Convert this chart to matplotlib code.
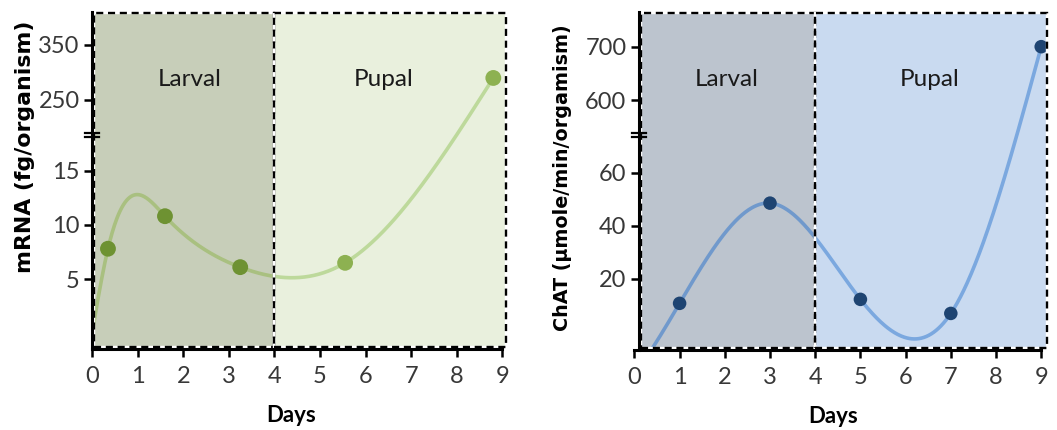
import numpy as np
import matplotlib
matplotlib.use("Agg")
import matplotlib.pyplot as plt
from matplotlib.patches import Rectangle

plt.rcParams['font.family'] = ['Lato', 'DejaVu Sans']

# ---------------- data ----------------
days_ticks = list(range(10))

mrna_days = [0.35, 1.6, 3.25, 5.55, 8.8]
mrna_vals = [7.8, 10.8, 6.1, 6.5, 290]
mrna_fit_days = [0.0] + mrna_days          # curve starts at origin
mrna_fit_vals = [0.0] + mrna_vals
mrna_yticks = [5, 10, 15, 250, 350]

chat_days = [1, 3, 5, 7, 9]
chat_vals = [10.8, 48.6, 12.3, 7.0, 700]
chat_yticks = [20, 40, 60, 600, 700]

stage_names = ["Larval", "Pupal"]
stage_bounds = [0, 4, 9]


def natural_cubic(x, y, xq):
    x = np.asarray(x, float); y = np.asarray(y, float); xq = np.asarray(xq, float)
    n = len(x); h = np.diff(x)
    A = np.zeros((n, n)); r = np.zeros(n)
    A[0, 0] = 1; A[-1, -1] = 1
    for i in range(1, n - 1):
        A[i, i - 1] = h[i - 1]; A[i, i] = 2 * (h[i - 1] + h[i]); A[i, i + 1] = h[i]
        r[i] = 6 * ((y[i + 1] - y[i]) / h[i] - (y[i] - y[i - 1]) / h[i - 1])
    M = np.linalg.solve(A, r)
    idx = np.clip(np.searchsorted(x, xq) - 1, 0, n - 2)
    x0 = x[idx]; x1 = x[idx + 1]; hh = x1 - x0
    t0 = x1 - xq; t1 = xq - x0
    return ((M[idx] * t0 ** 3 + M[idx + 1] * t1 ** 3) / (6 * hh)
            + (y[idx] / hh - M[idx] * hh / 6) * t0
            + (y[idx + 1] / hh - M[idx + 1] * hh / 6) * t1)


def make_break(b_lo, b_hi, k):
    def fwd(v):
        v = np.asarray(v, float)
        return np.where(v <= b_lo, v, np.where(v >= b_hi, b_lo + (v - b_hi) * k, b_lo))

    def inv(d):
        d = np.asarray(d, float)
        return np.where(d <= b_lo, d, b_hi + (d - b_lo) / k)
    return fwd, inv


fig = plt.figure(figsize=(10.57, 4.30), dpi=100)


def panel(rect, xlim, spine_x, ylim, brk, fit_x, fit_y, pts_x, pts_y, curve_x,
          yticks, ylabel, ylabel_size, ylabel_xy, bg_colors, line_colors,
          marker_colors, msize, label_x):
    ax = fig.add_axes(rect)
    fwd, inv = make_break(*brk)
    ax.set_yscale('function', functions=(fwd, inv))
    ax.set_xlim(*xlim)
    ax.set_ylim(*ylim)
    ax.patch.set_alpha(0)
    trans = ax.get_xaxis_transform()
    # stage backgrounds
    lefts = [spine_x + 0.05, stage_bounds[1]]
    rights = [stage_bounds[1], xlim[1] - 0.02]
    for i in range(2):
        ax.add_patch(Rectangle((lefts[i], 0.006), rights[i] - lefts[i], 0.994,
                               transform=trans, facecolor=bg_colors[i],
                               edgecolor='none', zorder=0))
    # smooth curve (spline in display space)
    d = natural_cubic(fit_x, fwd(fit_y), curve_x)
    yy = inv(d)
    m1 = curve_x <= stage_bounds[1]
    m2 = curve_x >= stage_bounds[1]
    ax.plot(curve_x[m1], yy[m1], color=line_colors[0], lw=2.6, zorder=2,
            solid_capstyle='round')
    ax.plot(curve_x[m2], yy[m2], color=line_colors[1], lw=2.6, zorder=2,
            solid_capstyle='round')
    px = np.asarray(pts_x); py = np.asarray(pts_y)
    cols = [marker_colors[0] if x < stage_bounds[1] else marker_colors[1] for x in px]
    ax.scatter(px, py, s=msize, c=cols, zorder=3, edgecolors='none', clip_on=False)
    # dashed boxes
    for i in range(2):
        for ec, ls in (('white', '-'), ('black', (0, (3, 2)))):
            ax.add_patch(Rectangle((lefts[i], 0.006), rights[i] - lefts[i], 0.99,
                                   transform=trans, facecolor='none', edgecolor=ec,
                                   lw=1.7, linestyle=ls, zorder=4, clip_on=False))
    # stage labels
    for i in range(2):
        ax.text(label_x[i], 0.80, stage_names[i], transform=trans, ha='center',
                va='center', fontsize=17.5, color='#1a1a1a', zorder=5)
    # spines & ticks
    for s in ('top', 'right'):
        ax.spines[s].set_visible(False)
    ax.spines['left'].set_position(('data', spine_x))
    ax.spines['left'].set_linewidth(2.2)
    ax.spines['bottom'].set_linewidth(2.2)
    ax.spines['bottom'].set_bounds(xlim[0], 9)
    ax.spines['left'].set_zorder(6)
    ax.spines['bottom'].set_zorder(6)
    ax.set_xticks(days_ticks)
    ax.set_xticklabels([str(t) for t in days_ticks])
    ax.set_yticks(yticks)
    ax.set_yticklabels([str(t) for t in yticks])
    ax.yaxis.set_minor_locator(matplotlib.ticker.NullLocator())
    ax.tick_params(axis='both', direction='out', length=6, width=1.8,
                   labelsize=17, labelcolor='#383838', pad=3)
    ax.tick_params(axis='x', pad=6)
    ax.set_xlabel('Days', fontsize=16, fontweight='bold')
    ax.xaxis.label.set_va('center')
    ax.xaxis.set_label_coords(0.48, -0.196)
    ax.set_ylabel(ylabel, fontsize=ylabel_size, fontweight='bold',
                  family=['DejaVu Sans'])
    ax.yaxis.label.set_va('center')
    ax.yaxis.set_label_coords(*ylabel_xy)
    # break marks
    frac = (brk[0] - ylim[0]) / (fwd(ylim[1]) - ylim[0])
    sx = (spine_x - xlim[0]) / (xlim[1] - xlim[0])
    for off in (-0.006, 0.006):
        ax.plot([sx - 0.017, sx + 0.017], [frac + off, frac + off],
                transform=ax.transAxes, color='black', lw=1.6,
                clip_on=False, zorder=7)
    return ax


panel([92 / 1057, 81 / 430, 415 / 1057, 337 / 430], (0, 9.1), 0.0,
      (-1.45, 410), (18.3, 186.4, 0.0507),
      mrna_fit_days, mrna_fit_vals, mrna_days, mrna_vals,
      np.linspace(0, mrna_days[-1], 500),
      mrna_yticks, 'mRNA (fg/organism)', 15.8, (-0.161, 0.60),
      ['#c7ceb9', '#e9f0dd'], ['#a9c080', '#bdd99b'], ['#6e9232', '#8db151'],
      130, [2.15, 6.4])

panel([634.4 / 1057, 80 / 430, 413.6 / 1057, 338 / 430], (0, 9.15), 0.1,
      (-6.8, 765), (74.2, 534, 0.2013),
      chat_days, chat_vals, chat_days, chat_vals,
      np.linspace(0, 9, 500),
      chat_yticks, 'ChAT (µmole/min/orgamism)', 13.8, (-0.175, 0.51),
      ['#bcc4ce', '#c9daf0'], ['#7099cc', '#7ba8df'], ['#1e4472', '#1e4472'],
      95, [2.05, 6.54])

fig.savefig('out.png', dpi=100)
